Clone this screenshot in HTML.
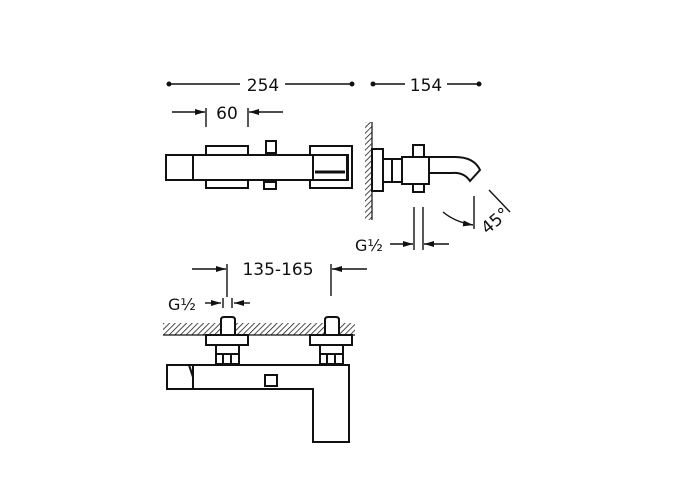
<!DOCTYPE html>
<html><head><style>body{margin:0;background:#fff}svg{display:block}text{font-family:"DejaVu Sans","Liberation Sans",sans-serif;fill:#111}</style></head><body>
<svg width="700" height="500" viewBox="0 0 700 500" xmlns="http://www.w3.org/2000/svg">
<defs>
<pattern id="h" patternUnits="userSpaceOnUse" width="4" height="4" patternTransform="rotate(45)"><line x1="0" y1="0" x2="0" y2="4" stroke="#111" stroke-width="1.5"/></pattern>
<marker id="a" viewBox="0 0 10 6" refX="10" refY="3" markerWidth="10" markerHeight="6" orient="auto" markerUnits="userSpaceOnUse"><path d="M0,0 L10,3 L0,6z" fill="#111"/></marker>
</defs>
<g stroke="#111" stroke-width="1.4" fill="none">
<line x1="169" y1="84" x2="240" y2="84"/><line x1="285" y1="84" x2="352" y2="84"/>
<line x1="373" y1="84" x2="405" y2="84"/><line x1="447" y1="84" x2="479" y2="84"/>
<line x1="172" y1="112" x2="205" y2="112" marker-end="url(#a)"/>
<line x1="283" y1="112" x2="249" y2="112" marker-end="url(#a)"/>
<line x1="206" y1="108" x2="206" y2="127"/><line x1="248" y1="108" x2="248" y2="127"/>
</g>
<g fill="#111"><circle cx="169" cy="84" r="2.5"/><circle cx="352" cy="84" r="2.5"/><circle cx="373" cy="84" r="2.5"/><circle cx="479" cy="84" r="2.5"/></g>
<text x="263" y="91" font-size="17" text-anchor="middle">254</text>
<text x="426" y="91" font-size="17" text-anchor="middle">154</text>
<text x="227" y="119" font-size="17" text-anchor="middle">60</text>
<g stroke="#111" stroke-width="2" fill="#fff">
<rect x="206" y="146" width="42" height="42"/>
<rect x="310" y="146" width="42" height="42"/>
<rect x="266" y="141" width="10" height="12"/>
<rect x="264" y="182" width="12" height="7"/>
<rect x="166" y="155" width="27" height="25"/>
<rect x="193" y="155" width="155" height="25"/>
<rect x="313" y="155" width="34" height="25"/>
<line x1="315" y1="172" x2="345" y2="172" stroke-width="3"/>
</g>
<rect x="365" y="122" width="7" height="98" fill="url(#h)"/>
<line x1="372" y1="122" x2="372" y2="220" stroke="#111" stroke-width="1.2"/>
<g stroke="#111" stroke-width="2" fill="#fff">
<rect x="372" y="149" width="11" height="42"/>
<rect x="383" y="159" width="19" height="23"/>
<line x1="392" y1="159" x2="392" y2="182"/>
<rect x="413" y="145" width="11" height="12"/>
<rect x="413" y="184" width="11" height="8"/>
<path d="M429,157 L455,157 Q474,157 480,170 L470,181 Q464,172 452,173 L429,173"/>
<rect x="402" y="157" width="27" height="27"/>
</g>
<g stroke="#111" stroke-width="1.4" fill="none">
<line x1="414" y1="207" x2="414" y2="250"/><line x1="423" y1="207" x2="423" y2="250"/>
<line x1="390" y1="244" x2="413" y2="244" marker-end="url(#a)"/>
<line x1="449" y1="244" x2="424" y2="244" marker-end="url(#a)"/>
<line x1="474" y1="196" x2="474" y2="229"/>
<line x1="489" y1="190" x2="510" y2="212"/>
<path d="M443,212 Q455,222 473,225" marker-end="url(#a)"/>
</g>
<text x="355" y="251" font-size="16">G½</text>
<text x="479" y="232" font-size="17" transform="rotate(-40 487 222)">45°</text>
<g stroke="#111" stroke-width="1.4" fill="none">
<line x1="192" y1="269" x2="226" y2="269" marker-end="url(#a)"/>
<line x1="367" y1="269" x2="332" y2="269" marker-end="url(#a)"/>
<line x1="227" y1="264" x2="227" y2="297"/><line x1="331" y1="264" x2="331" y2="296"/>
<line x1="205" y1="303" x2="221" y2="303" marker-end="url(#a)"/>
<line x1="250" y1="303" x2="234" y2="303" marker-end="url(#a)"/>
<line x1="223" y1="298" x2="223" y2="308"/><line x1="232" y1="298" x2="232" y2="308"/>
</g>
<text x="278" y="275" font-size="17" text-anchor="middle">135-165</text>
<text x="168" y="310" font-size="16">G½</text>
<rect x="163" y="323" width="192" height="12" fill="url(#h)"/>
<line x1="163" y1="335" x2="355" y2="335" stroke="#111" stroke-width="1.2"/>
<g stroke="#111" stroke-width="2" fill="#fff">
<path d="M221,335 L221,320 Q221,317 224,317 L232,317 Q235,317 235,320 L235,335"/>
<path d="M325,335 L325,320 Q325,317 328,317 L336,317 Q339,317 339,320 L339,335"/>
<rect x="206" y="335" width="42" height="10"/>
<rect x="310" y="335" width="42" height="10"/>
<rect x="216" y="345" width="23" height="19"/>
<rect x="320" y="345" width="23" height="19"/>
<path d="M216,354 H239 M223,354 V364 M231,354 V364 M320,354 H343 M327,354 V364 M335,354 V364" fill="none"/>
<rect x="167" y="365" width="26" height="24"/>
<path d="M193,365 L349,365 L349,442 L313,442 L313,389 L193,389 Z"/>
<line x1="189" y1="365" x2="193" y2="377"/>
<rect x="265" y="375" width="12" height="11"/>
</g>
</svg>
</body></html>
